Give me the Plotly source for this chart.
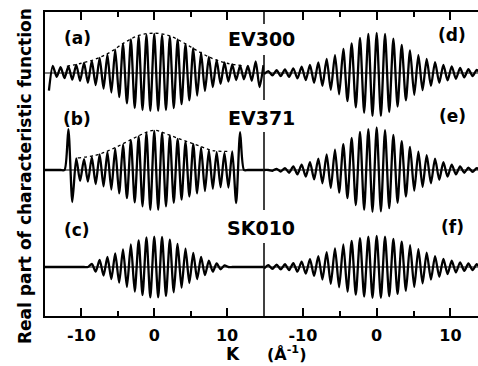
import plotly.graph_objects as go

# ---------------- data ----------------
# K positions of the oscillation extrema, left column (a,b,c) and right column (d,e,f)
k_left = [-15.00, -14.46, -13.93, -13.39, -12.86, -12.32, -11.79, -11.25, -10.71, -10.18,
          -9.64, -9.11, -8.57, -8.04, -7.50, -6.96, -6.43, -5.89, -5.36, -4.82,
          -4.29, -3.75, -3.21, -2.68, -2.14, -1.61, -1.07, -0.54, 0.00, 0.54,
          1.07, 1.61, 2.14, 2.68, 3.21, 3.75, 4.29, 4.82, 5.36, 5.89,
          6.43, 6.96, 7.50, 8.04, 8.57, 9.11, 9.64, 10.18, 10.71, 11.25,
          11.79, 12.32, 12.86, 13.39, 13.93, 14.46, 15.00]
k_right = [-15.26, -14.69, -14.13, -13.56, -13.00, -12.43, -11.87, -11.30, -10.74, -10.17,
           -9.61, -9.04, -8.48, -7.91, -7.35, -6.78, -6.22, -5.65, -5.09, -4.52,
           -3.96, -3.39, -2.83, -2.26, -1.70, -1.13, -0.57, 0.00, 0.57, 1.13,
           1.70, 2.26, 2.83, 3.39, 3.96, 4.52, 5.09, 5.65, 6.22, 6.78,
           7.35, 7.91, 8.48, 9.04, 9.61, 10.17, 10.74, 11.30, 11.87, 12.43,
           13.00, 13.56, 14.13]

ev300_a = [None, -0.45, 0.18, -0.10, 0.15, -0.13, 0.17, -0.17, 0.21, -0.20,
           0.26, -0.25, 0.31, -0.31, 0.39, -0.40, 0.47, -0.50, 0.60, -0.62,
           0.74, -0.78, 0.86, -0.90, 0.94, -0.95, 0.98, -0.97, 1.00, -0.97,
           0.97, -0.95, 0.93, -0.90, 0.86, -0.80, 0.74, -0.70, 0.64, -0.58,
           0.52, -0.46, 0.41, -0.36, 0.33, -0.28, 0.27, -0.22, 0.22, -0.18,
           0.19, -0.16, 0.18, -0.20, 0.30, -0.36, 0.20]
ev371_b = [0, 0, 0, 0, 0, 0, 1.05, -0.82, 0.30, -0.28,
           0.28, -0.30, 0.33, -0.36, 0.40, -0.42, 0.46, -0.50, 0.55, -0.60,
           0.65, -0.72, 0.76, -0.83, 0.86, -0.93, 0.95, -1.02, 1.00, -1.02,
           0.95, -0.93, 0.88, -0.84, 0.80, -0.76, 0.72, -0.68, 0.66, -0.60,
           0.58, -0.54, 0.50, -0.48, 0.46, -0.44, 0.44, -0.45, 0.48, -0.85,
           0.97, 0, 0, 0, 0, 0, 0]
sk010_c = [0, 0, 0, 0, 0, 0, 0, 0, 0, 0,
           0, 0, 0.08, -0.12, 0.18, -0.22, 0.26, -0.31, 0.35, -0.40,
           0.45, -0.51, 0.58, -0.63, 0.68, -0.72, 0.76, -0.78, 0.78, -0.78,
           0.77, -0.74, 0.70, -0.65, 0.59, -0.53, 0.47, -0.41, 0.36, -0.31,
           0.26, -0.21, 0.16, -0.12, 0.09, -0.06, 0.04, 0, 0, 0,
           0, 0, 0, 0, 0, 0, 0]
ev300_d = [-0.03, 0.05, -0.06, 0.07, -0.08, 0.09, -0.10, 0.12, -0.14, 0.16,
           -0.18, 0.21, -0.25, 0.27, -0.33, 0.36, -0.43, 0.46, -0.55, 0.62,
           -0.72, 0.76, -0.88, 0.90, -1.02, 1.00, -1.10, 1.03, -1.10, 1.00,
           -1.00, 0.88, -0.86, 0.72, -0.70, 0.58, -0.56, 0.46, -0.44, 0.36,
           -0.33, 0.28, -0.25, 0.21, -0.19, 0.17, -0.15, 0.13, -0.11, 0.10,
           -0.08, 0.08, -0.06]
ev371_e = [0, 0, -0.02, 0.03, -0.04, 0.05, -0.07, 0.09, -0.11, 0.14,
           -0.17, 0.20, -0.24, 0.29, -0.34, 0.40, -0.46, 0.52, -0.58, 0.66,
           -0.72, 0.82, -0.90, 0.98, -1.02, 1.05, -1.07, 1.09, -1.06, 1.02,
           -0.98, 0.90, -0.84, 0.74, -0.68, 0.59, -0.53, 0.47, -0.43, 0.38,
           -0.34, 0.29, -0.25, 0.20, -0.17, 0.14, -0.11, 0.09, -0.07, 0.06,
           -0.05, 0.05, -0.04]
sk010_f = [-0.04, 0.05, -0.05, 0.06, -0.06, 0.07, -0.08, 0.10, -0.12, 0.14,
           -0.17, 0.20, -0.23, 0.28, -0.32, 0.38, -0.43, 0.48, -0.52, 0.58,
           -0.63, 0.67, -0.71, 0.74, -0.76, 0.78, -0.79, 0.80, -0.79, 0.78,
           -0.75, 0.72, -0.69, 0.65, -0.61, 0.56, -0.51, 0.46, -0.42, 0.37,
           -0.32, 0.28, -0.25, 0.21, -0.18, 0.16, -0.14, 0.12, -0.10, 0.09,
           -0.08, 0.07, -0.06]

# dashed envelopes over (a) and (b)
env_k_a = [-12, -10, -8, -6, -4, -2, 0, 2, 4, 6, 8, 10, 12]
env_a = [0.17, 0.25, 0.36, 0.54, 0.79, 0.97, 1.02, 0.96, 0.78, 0.56, 0.37, 0.25, 0.19]
env_k_b = [-10.5, -8, -6, -4, -2, 0, 2, 4, 6, 8, 10.5]
env_b = [0.31, 0.38, 0.52, 0.70, 0.89, 1.02, 0.90, 0.76, 0.63, 0.50, 0.48]

tick_vals = [-10, 0, 10]
tick_text = ["-10", "0", "10"]
minor_vals = [-5, 5]
panel_labels = ["(a)", "(b)", "(c)", "(d)", "(e)", "(f)"]
sample_names = ["EV300", "EV371", "SK010"]

# ---------------- figure ----------------
W, H = 478, 366
ML, MR, MT, MB = 45, 0, 12, 50
PW, PH = W - ML - MR, H - MT - MB
XDIV = (264 - ML) / PW
FONT = "DejaVu Sans"
UNIT = 39.0  # px per unit amplitude


def py(px):  # pixel y -> paper y
    return (H - MB - px) / PH


def px_x(px):
    return (px - ML) / PW


def yrange(base_px):
    top = (base_px - MT) / UNIT
    return [top - PH / UNIT, top]


fig = go.Figure()
curve = dict(color="black", width=2.3, shape="spline", smoothing=0.7)
for xa, kk, series in [("x", k_left, [ev300_a, ev371_b, sk010_c]),
                       ("x2", k_right, [ev300_d, ev371_e, sk010_f])]:
    for ya, vals in zip(["y", "y2", "y3"], series):
        fig.add_trace(go.Scatter(x=kk, y=vals, mode="lines", line=curve,
                                 xaxis=xa, yaxis=ya, hoverinfo="skip", showlegend=False))

dash = dict(color="black", width=1.3, dash="3px,3px", shape="spline")
fig.add_trace(go.Scatter(x=env_k_a, y=env_a, mode="lines", line=dash,
                         xaxis="x", yaxis="y", showlegend=False, hoverinfo="skip"))
fig.add_trace(go.Scatter(x=env_k_b, y=env_b, mode="lines", line=dash,
                         xaxis="x", yaxis="y2", showlegend=False, hoverinfo="skip"))

xcommon = dict(showgrid=False, zeroline=False, showline=True, linecolor="black", linewidth=1.5,
               mirror="ticks", ticks="inside", ticklen=8, tickwidth=1.5, tickcolor="black",
               tickmode="array", tickvals=tick_vals, ticktext=tick_text,
               minor=dict(tickmode="array", tickvals=minor_vals, ticks="inside", ticklen=5,
                          tickwidth=1.5, tickcolor="black"),
               tickfont=dict(family=FONT, size=16, color="black", weight="bold"),
               ticklabelstandoff=4, anchor="y", fixedrange=True)

bases = [73, 170, 267]
fig.update_layout(
    width=W, height=H, margin=dict(l=ML, r=MR, t=MT, b=MB, pad=0),
    paper_bgcolor="white", plot_bgcolor="white", showlegend=False,
    xaxis=dict(domain=[0, XDIV], range=[-15.0, 15.07], **xcommon),
    xaxis2=dict(domain=[XDIV, 1], range=[-15.27, 13.73], **xcommon),
    yaxis=dict(domain=[0, 1], range=yrange(bases[0]), showline=True, linecolor="black",
               linewidth=1.5, showgrid=False, zeroline=False, ticks="", showticklabels=False,
               anchor="x"),
    yaxis2=dict(domain=[0, 1], range=yrange(bases[1]), overlaying="y", visible=False, anchor="x"),
    yaxis3=dict(domain=[0, 1], range=yrange(bases[2]), overlaying="y", visible=False, anchor="x"),
)

shapes = []
for ya in ["y", "y2", "y3"]:
    shapes.append(dict(type="line", xref="paper", yref=ya, x0=0, x1=1, y0=0, y1=0,
                       line=dict(color="black", width=1.2), layer="below"))
for a, b in [(12, 24), (55, 100), (132, 210), (243, 316)]:
    shapes.append(dict(type="line", xref="paper", yref="paper", x0=XDIV, x1=XDIV,
                       y0=py(a), y1=py(b), line=dict(color="black", width=1.5)))
fig.update_layout(shapes=shapes)

ann = []
lab_font = dict(family=FONT, size=17, color="black", weight="bold")
for lab, (x, y) in zip(panel_labels, [(77, 38), (77, 119), (77, 230),
                                       (452, 35), (452, 116), (452, 227)]):
    ann.append(dict(text=lab, x=px_x(x), y=py(y), xref="paper", yref="paper",
                    showarrow=False, xanchor="center", yanchor="middle", font=lab_font))
name_font = dict(family=FONT, size=19, color="black", weight="bold")
for nm, y in zip(sample_names, [39, 118, 228]):
    ann.append(dict(text=nm, x=px_x(261), y=py(y), xref="paper", yref="paper",
                    showarrow=False, xanchor="center", yanchor="middle", font=name_font))
ann.append(dict(text="Real part of characteristic function", textangle=-90,
                x=px_x(25), y=py(176), xref="paper", yref="paper", showarrow=False,
                xanchor="center", yanchor="middle",
                font=dict(family=FONT, size=17, color="black", weight="bold")))
ann.append(dict(text="K", x=px_x(233), y=py(366), xref="paper", yref="paper", showarrow=False,
                xanchor="center", yanchor="bottom",
                font=dict(family=FONT, size=17, color="black", weight="bold")))
ann.append(dict(text="(Å<sup>-1</sup>)", x=px_x(286), y=py(366), xref="paper", yref="paper",
                showarrow=False, xanchor="center", yanchor="bottom",
                font=dict(family=FONT, size=16, color="black", weight="bold")))
fig.update_layout(annotations=ann)

fig.write_html("out.html", config={"displayModeBar": False})
